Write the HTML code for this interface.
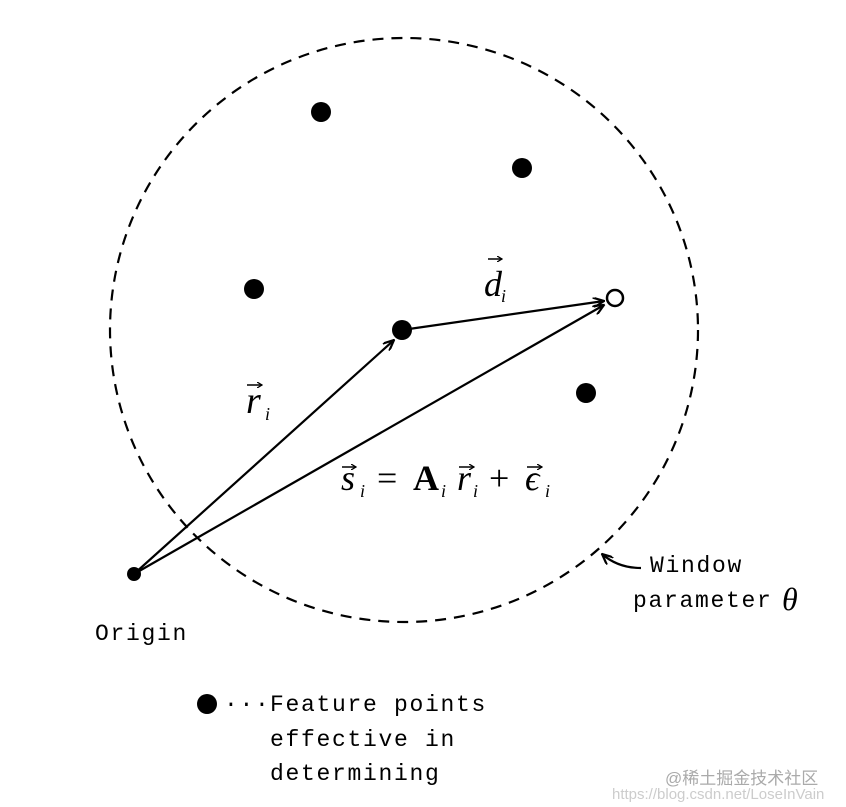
<!DOCTYPE html>
<html><head><style>
body{margin:0;background:#fff;width:846px;height:807px;overflow:hidden;position:relative}
.m{font-family:"Liberation Mono",monospace;font-size:23px;position:absolute;color:#000;letter-spacing:1.7px;white-space:pre}
</style></head><body>
<svg width="846" height="807" style="position:absolute;left:0;top:0">
<defs><marker id="a" markerWidth="12" markerHeight="10" refX="11" refY="5" orient="auto" markerUnits="userSpaceOnUse"><path d="M0,0 L11,5 L0,10" fill="none" stroke="#000" stroke-width="2.2"/></marker>
<marker id="b" markerWidth="6" markerHeight="6" refX="5" refY="3" orient="auto" markerUnits="userSpaceOnUse"><path d="M0,0 L5,3 L0,6" fill="none" stroke="#000" stroke-width="1.3"/></marker></defs>
<ellipse cx="404" cy="330" rx="294" ry="292" fill="none" stroke="#000" stroke-width="2.2" stroke-dasharray="11,8"/>
<g fill="#000">
<circle cx="321" cy="112" r="10"/><circle cx="522" cy="168" r="10"/><circle cx="254" cy="289" r="10"/>
<circle cx="402" cy="330" r="10"/><circle cx="586" cy="393" r="10"/><circle cx="134" cy="574" r="7"/>
<circle cx="207" cy="704" r="10"/>
</g>
<circle cx="615" cy="298" r="8" fill="#fff" stroke="#000" stroke-width="2.5"/>
<g stroke="#000" stroke-width="2.2" fill="none">
<line x1="134" y1="574" x2="394" y2="340" marker-end="url(#a)"/>
<line x1="402" y1="330" x2="604" y2="301" marker-end="url(#a)"/>
<line x1="134" y1="574" x2="604" y2="305" marker-end="url(#a)"/>
<path d="M641,568 Q618,568 602,554" marker-end="url(#a)"/>
</g>
<g font-family="Liberation Serif" font-style="italic" fill="#000">
<text x="484" y="296" font-size="36">d</text><text x="501" y="302" font-size="18">i</text>
<text x="246" y="413" font-size="38">r</text><text x="265" y="420" font-size="18">i</text>
<text x="341" y="490" font-size="36">s</text><text x="360" y="497" font-size="18">i</text>
<text x="377" y="490" font-size="36" font-style="normal">=</text>
<text x="413" y="490" font-size="36" font-style="normal" font-weight="bold">A</text><text x="441" y="497" font-size="18">i</text>
<text x="457" y="490" font-size="36">r</text><text x="473" y="497" font-size="18">i</text>
<text x="489" y="490" font-size="36" font-style="normal">+</text>
<text x="525" y="490" font-size="36">ϵ</text><text x="545" y="497" font-size="18">i</text>
<text x="782" y="610" font-size="32">θ</text>
</g>
<g stroke="#000" stroke-width="1.5" fill="none">
<line x1="488" y1="259" x2="502" y2="259" marker-end="url(#b)"/>
<line x1="247" y1="385" x2="262" y2="385" marker-end="url(#b)"/>
<line x1="342" y1="467" x2="356" y2="467" marker-end="url(#b)"/>
<line x1="459" y1="467" x2="474" y2="467" marker-end="url(#b)"/>
<line x1="527" y1="467" x2="542" y2="467" marker-end="url(#b)"/>
</g>
</svg>
<div class="m" style="left:650px;top:553px">Window</div>
<div class="m" style="left:633px;top:588px">parameter</div>
<div class="m" style="left:95px;top:621px">Origin</div>
<div class="m" style="left:224px;top:692px">···</div>
<div class="m" style="left:270px;top:692px">Feature points</div>
<div class="m" style="left:270px;top:727px">effective in</div>
<div class="m" style="left:270px;top:761px">determining</div>
<div style="position:absolute;left:665px;top:764px;font-size:17px;color:#aaa;font-family:'Liberation Sans','Noto Sans CJK SC',sans-serif">@稀土掘金技术社区</div>
<div style="position:absolute;left:612px;top:786px;font-size:15px;color:#ccc;font-family:'Liberation Sans',sans-serif">https://blog.csdn.net/LoseInVain</div>
</body></html>
